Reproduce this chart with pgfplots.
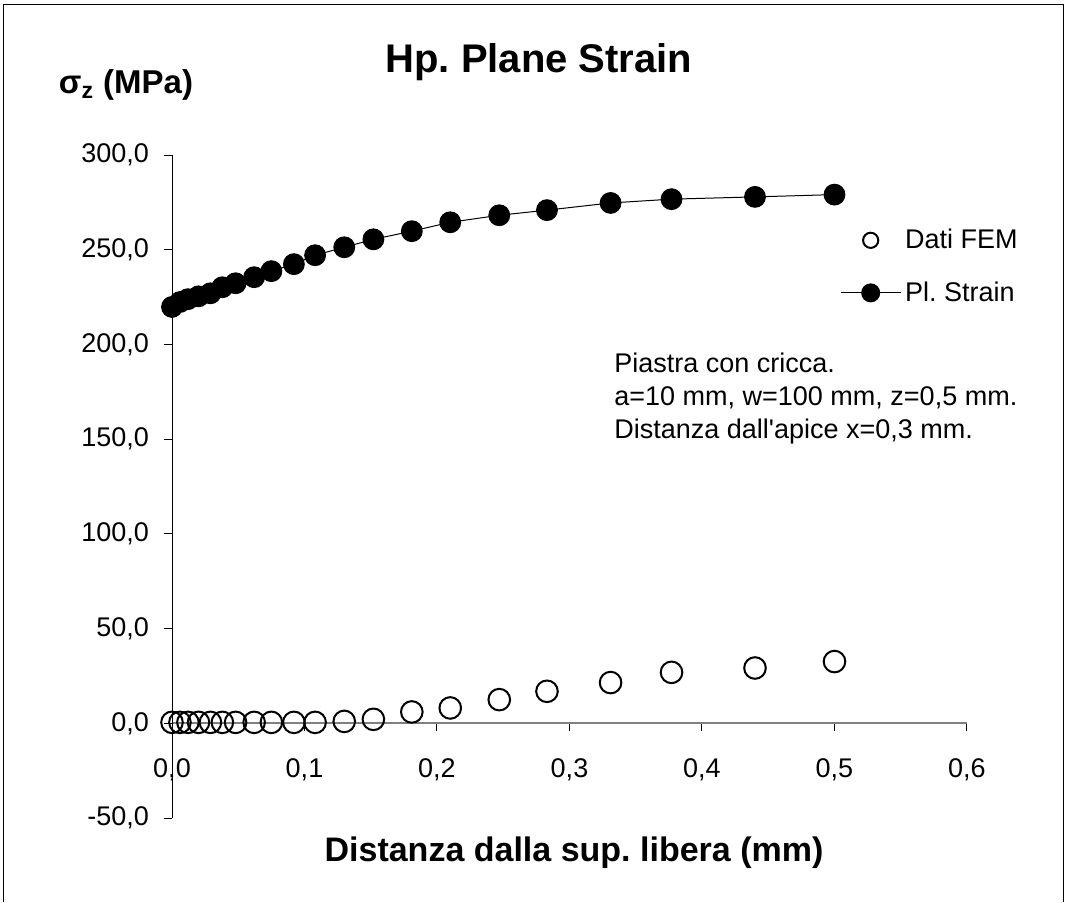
\documentclass[border=0pt]{standalone}
\usepackage{fontspec}
\setmainfont{Liberation Sans}
\usepackage{pgfplots}
\pgfplotsset{compat=1.18}
\usepackage{pgfplotstable}
\frenchspacing

% x (mm), FEM stress, plane-strain stress (MPa)
\pgfplotstableread{
x      fem    pls
0.000  0.5    219.8
0.006  0.5    222.4
0.012  0.5    223.9
0.020  0.5    225.4
0.029  0.5    227.0
0.038  0.5    230.2
0.048  0.5    232.3
0.062  0.5    235.5
0.075  0.5    238.7
0.092  0.5    242.4
0.108  0.5    247.1
0.130  1.0    251.3
0.152  2.1    255.5
0.181  6.0    259.8
0.210  8.1    264.5
0.247  12.5   268.2
0.283  16.9   270.9
0.331  21.5   274.7
0.377  26.9   276.7
0.440  29.2   277.9
0.500  32.6   279.1
}\datatable

\newcommand{\fs}[2]{\fontsize{#1}{#2}\selectfont}

\begin{document}
\begin{tikzpicture}
% page extent and frame
\path[use as bounding box] (0,0) rectangle (533pt,-451pt);
\draw[line width=0.5pt] (1.5pt,-451pt) -- (1.5pt,-2pt) -- (531.5pt,-2pt) -- (531.5pt,-451pt);

\begin{axis}[
  at={(86pt,-409pt)}, anchor=south west,
  scale only axis,
  width=397.5pt, height=331.5pt,
  xmin=0, xmax=0.6, ymin=-50, ymax=300,
  axis x line=middle,
  axis y line=left,
  axis line style={-},
  x axis line style={draw=gray, line width=1pt},
  y axis line style={draw=black, line width=0.5pt},
  xtick={0.1,0.2,0.3,0.4,0.5,0.6},
  extra x ticks={0},
  ytick={-50,0,50,100,150,200,250,300},
  tick align=outside,
  major tick length=4pt,
  tick style={black, line width=0.5pt},
  tick label style={font=\fs{13.5}{16}},
  /pgf/number format/assume math mode=true,
  /pgf/number format/.cd, fixed, fixed zerofill, precision=1, use comma,
  /pgfplots/.cd,
  xticklabel style={yshift=-10pt},
  yticklabel style={xshift=-4pt},
  clip=false,
  legend cell align=left,
  legend style={draw=none, fill=none, at={(0.84,0.895)}, anchor=north west,
    font=\fs{13.5}{16}, row sep=11pt, inner sep=0pt},
  legend image code/.code={%
    \draw[mark repeat=2, mark phase=2, #1]
      plot coordinates {(0pt,0pt) (15pt,0pt) (30pt,0pt)};},
]
\addplot[only marks, mark=o, mark size=5.4pt, mark options={line width=1pt, draw=black},
  legend image post style={mark size=3.8pt}]
  table[x=x, y=fem] {\datatable};
\addlegendentry{Dati FEM}
\addplot[black, line width=0.5pt, mark=*, mark size=5.2pt, mark options={fill=black},
  legend image post style={mark size=4.5pt}]
  table[x=x, y=pls] {\datatable};
\addlegendentry{Pl. Strain}
\end{axis}

% titles and note
\node[font=\bfseries\fs{20}{24}] at (269.5pt,-31pt) {Hp. Plane Strain};
\node[font=\bfseries\fs{16.5}{20}] at (63pt,-42.5pt) {σ\textsubscript{z} (MPa)};
\node[font=\bfseries\fs{17}{20}] at (287pt,-426.5pt) {Distanza dalla sup. libera (mm)};
\node[anchor=base west, align=left, inner sep=0pt, font=\fs{13.5}{16.5}] at (307pt,-219pt)
  {Piastra con cricca.\\a=10 mm, w=100 mm, z=0,5 mm.\\Distanza dall\textquotesingle apice x=0,3 mm.};
\end{tikzpicture}
\end{document}
